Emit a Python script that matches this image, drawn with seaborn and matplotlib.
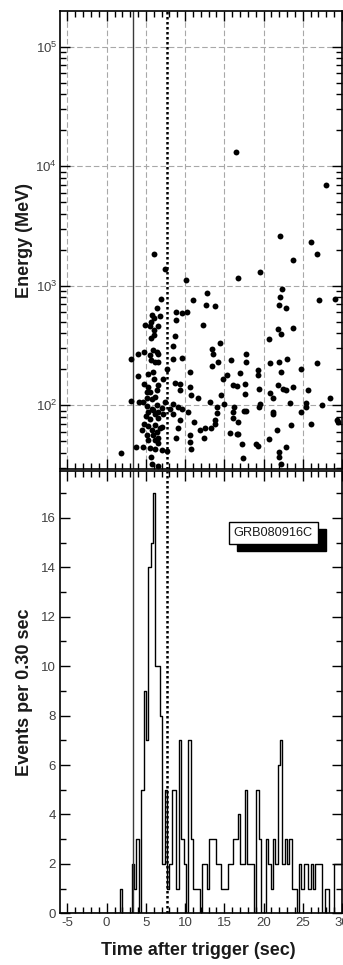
import numpy as np
import pandas as pd
import matplotlib
matplotlib.use("Agg")
import matplotlib.pyplot as plt
import matplotlib.transforms as mtransforms
from matplotlib.ticker import MultipleLocator, LogLocator, NullFormatter
import seaborn as sns

# ---------------- data ----------------
event_time = [
    16.43, 28.0, 22.1, 26.1, 6.03, 26.84, 23.78, 7.43, 19.6, 16.69, 10.1, 22.3, 12.8,
    22.08, 27.1, 29.1, 10.96, 12.65, 13.8, 22.0, 22.85,
    6.92, 6.37, 5.73, 6.79, 6.07, 5.64, 4.88, 5.52, 6.58, 6.07, 6.07, 5.64, 8.79, 9.55,
    10.19, 8.79, 8.7, 8.49, 8.49, 9.63, 10.6, 3.1, 3.95, 4.79, 6.37, 6.58, 5.64, 6.15,
    7.64, 3.95, 5.3, 5.94, 6.07, 7.2, 4.79, 5.3, 6.5, 8.7, 9.34, 5.52, 6.37, 9.34, 3.1,
    4.11, 5.1, 5.73, 7.43, 5.1, 6.37, 5.73, 7.0, 8.49, 9.04, 9.55, 8.06, 4.97, 6.15,
    5.52, 6.58, 7.2, 8.49, 9.34, 4.79, 5.3, 6.15, 7.0, 9.12, 4.46, 5.73, 6.37, 6.58,
    5.94, 8.79, 6.15, 3.69, 4.66, 5.52, 6.15, 7.0, 7.64, 1.82, 5.64, 5.73, 6.5, 5.1,
    5.94, 6.58, 5.3, 4.66, 6.15, 6.79, 5.1, 5.3, 6.58, 5.52, 5.94, 6.5,
    12.31, 14.43, 13.38, 13.5, 13.38, 14.14, 14.86, 15.29, 15.84, 17.7, 17.7, 16.98,
    16.05, 16.64, 17.62, 17.62, 19.31, 19.31, 19.4, 19.53, 19.4, 19.31, 10.61, 10.74,
    11.59, 14.56, 14.98, 13.16, 14.01, 14.01, 16.26, 16.13, 17.53, 17.7, 10.4, 11.16,
    13.8, 13.8, 16.13, 16.77, 11.89, 12.52, 13.29, 10.61, 12.43, 10.61, 10.74, 15.7,
    16.56, 16.7, 17.2, 19.02, 17.33,
    21.86, 22.2, 23.69, 20.67, 21.99, 23.05, 20.8, 22.16, 24.71, 26.83, 21.86, 22.42,
    22.84, 23.69, 20.8, 21.22, 25.69, 23.43, 28.53, 21.22, 21.22, 24.71, 25.39, 25.39,
    27.39, 29.38, 29.5, 26.11, 23.48, 21.65, 20.67, 22.8, 21.95, 21.95, 22.2,
]
event_energy = [
    13200, 7000, 2600, 2340, 1830, 1830, 1640, 1370, 1310, 1170, 1115, 945, 875,
    800, 760, 775, 760, 690, 675, 685, 655,
    773, 655, 568, 562, 533, 499, 474, 459, 459, 425, 386, 363, 603, 588,
    603, 513, 381, 314, 243, 250, 190, 243, 266, 277, 280, 266, 238, 228,
    203, 176, 181, 190, 165, 165, 152, 142, 147, 155, 152, 129, 134, 134, 109,
    106, 114, 112, 106, 99, 100, 93, 95, 103, 97, 93, 93, 82, 84,
    77, 78, 84, 84, 76, 70, 67, 69, 66, 65, 62, 62, 60, 53,
    56, 53, 51, 45, 45, 44, 43, 42, 41.5, 40, 37, 32.5, 31, 129,
    91, 88, 88, 106, 117, 64, 56, 51, 48, 263, 288, 231,
    470, 329, 298, 271, 212, 231, 167, 179, 238, 271, 231, 185,
    149, 145, 152, 125, 196, 179, 138, 103, 97, 46, 142, 123,
    114, 123, 103, 107, 97, 87, 97, 88, 89, 89, 88, 73,
    75, 70, 78, 72, 62, 65, 64, 56, 53, 49, 43, 59,
    58, 58, 47, 47, 36.5,
    434, 398, 440, 357, 231, 242, 224, 190, 200, 224, 147, 138,
    135, 142, 127, 114, 135, 105, 114, 88, 85, 88, 97, 105,
    101, 76, 72, 70, 68, 62.5, 52, 45, 41, 37, 32.4,
]

bin_start = -5.8
bin_width = 0.30
counts_per_bin = [
    0, 0, 0, 0, 0, 0, 0, 0, 0, 0, 0, 0, 0, 0, 0, 0, 0, 0, 0, 0, 0, 0, 0, 0, 0,
    1, 0, 0, 0, 0, 2, 1, 3, 0, 5, 9, 7, 14, 15, 17, 10, 10, 8, 2, 5,
    1, 2, 5, 5, 1, 7, 3, 2, 0, 7, 3, 1, 1, 1,
    0, 2, 2, 1, 3, 3, 3, 2, 2, 1, 1, 1, 2, 2, 3, 3, 4, 2, 2, 5,
    2, 2, 2, 0, 5, 3, 0, 0, 3, 2, 1, 3, 2, 6, 7, 2, 3, 2, 3, 1, 1,
    0, 2, 1, 2, 2, 1, 2, 1, 2, 2, 2, 0, 1, 1, 0, 0, 2, 2, 2,
]
interval_start = 3.35
interval_end = 7.73
grb_name = "GRB080916C"

# ---------------- style ----------------
sns.set_theme(style="ticks")
plt.rcParams["font.family"] = ["Liberation Sans", "DejaVu Sans"]
plt.rcParams["mathtext.fontset"] = "custom"
plt.rcParams["mathtext.rm"] = "Liberation Sans"
plt.rcParams["mathtext.it"] = "Liberation Sans:italic"
plt.rcParams["mathtext.bf"] = "Liberation Sans:bold"
plt.rcParams["axes.unicode_minus"] = False

W, H = 343, 965
fig = plt.figure(figsize=(W / 100, H / 100), dpi=100)
left, right = 60, 342
ax1 = fig.add_axes([left / W, 1 - 469 / H, (right - left) / W, (469 - 11) / H])
ax2 = fig.add_axes([left / W, 1 - 913.3 / H, (right - left) / W, (913.3 - 471) / H])

tick_color = "#404040"
label_color = "#1a1a1a"

# ---------------- top panel ----------------
ax1.set_yscale("log")
scatter_df = pd.DataFrame({"time": event_time, "energy": event_energy})
sns.scatterplot(data=scatter_df, x="time", y="energy", ax=ax1, color="black",
                s=18, linewidth=0, legend=False, zorder=3)
ax1.set_xlim(-5.95, 30)
ax1.set_ylim(29.3, 1.99e5)
ax1.xaxis.set_major_locator(MultipleLocator(5))
ax1.xaxis.set_minor_locator(MultipleLocator(1))
ax1.yaxis.set_major_locator(LogLocator(base=10))
ax1.yaxis.set_minor_locator(LogLocator(base=10, subs=np.arange(2, 10)))
ax1.yaxis.set_minor_formatter(NullFormatter())
ax1.set_axisbelow(True)
ax1.grid(True, which="major", color="#a8a8a8", linestyle=(0, (5, 2.5)), linewidth=0.8)
ax1.tick_params(which="both", direction="in", top=True, right=True, bottom=True,
                labelbottom=False, width=1, colors="black", labelcolor=tick_color,
                labelsize=9.5, pad=2)
ax1.tick_params(which="major", length=7)
ax1.tick_params(which="minor", length=4)
ax1.set_xlabel("")
ax1.set_ylabel("Energy (MeV)", fontsize=13, fontweight="bold", color=label_color)
ax1.yaxis.set_label_coords(-0.095, 0.5)

# ---------------- bottom panel ----------------
edges = [bin_start + bin_width * i for i in range(len(counts_per_bin) + 1)]
hist_df = pd.DataFrame({
    "time": [e + bin_width / 2 for e in edges[:-1]],
    "count": [float(c) for c in counts_per_bin],
})
sns.histplot(data=hist_df, x="time", weights="count", bins=edges, element="step",
             fill=False, color="black", linewidth=1.0, ax=ax2)
ax2.set_xlim(-5.95, 30)
ax2.set_ylim(0, 17.9)
ax2.xaxis.set_major_locator(MultipleLocator(5))
ax2.xaxis.set_minor_locator(MultipleLocator(1))
ax2.yaxis.set_major_locator(MultipleLocator(2))
ax2.yaxis.set_minor_locator(MultipleLocator(1))
ax2.tick_params(which="both", direction="in", top=True, right=True, width=1,
                colors="black", labelcolor=tick_color, labelsize=9.5, pad=3)
ax2.tick_params(which="major", length=7)
ax2.tick_params(which="minor", length=4)
ax2.set_xlabel("Time after trigger (sec)", fontsize=13, fontweight="bold", color=label_color)
ax2.xaxis.set_label_coords(0.49, -0.066)
ax2.set_ylabel("Events per 0.30 sec", fontsize=13, fontweight="bold", color=label_color)
ax2.yaxis.set_label_coords(-0.095, 0.5)

for ax in (ax1, ax2):
    for sp in ax.spines.values():
        sp.set_visible(True)
        sp.set_linewidth(1.2)
        sp.set_color("black")
    ax.axvline(interval_start, color="#3a3a3a", linewidth=1.0, zorder=2.5)
    ax.axvline(interval_end, color="black", linestyle=(0, (1, 1)), linewidth=1.8, zorder=2.5)

# label box with drop shadow
shadow_tr = mtransforms.offset_copy(ax2.transData, fig=fig, x=8, y=-7, units="dots")
ax2.text(21.25, 15.4, grb_name, transform=shadow_tr, ha="center", va="center",
         fontsize=9.2, color="black", zorder=5,
         bbox=dict(boxstyle="square,pad=0.4", fc="black", ec="black", lw=1))
ax2.text(21.25, 15.4, grb_name, ha="center", va="center", fontsize=9.2,
         color="#1a1a1a", zorder=6,
         bbox=dict(boxstyle="square,pad=0.4", fc="white", ec="black", lw=1))

fig.savefig("out.png", dpi=100)
